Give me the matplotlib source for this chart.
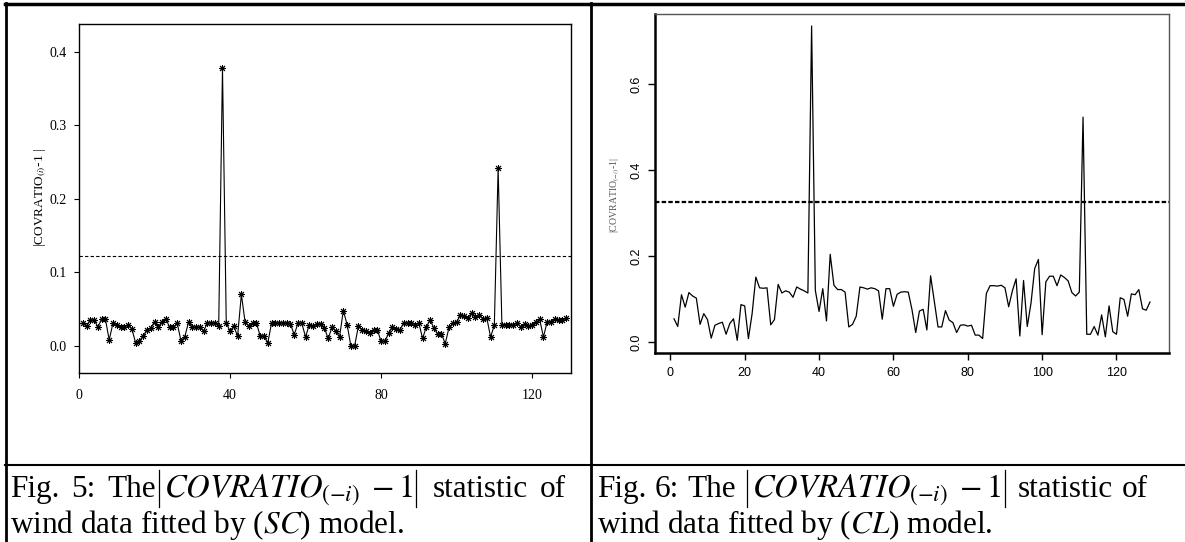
import numpy as np
import matplotlib
matplotlib.use("Agg")
import matplotlib.pyplot as plt
from matplotlib.lines import Line2D
from matplotlib.ticker import FormatStrFormatter

# |COVRATIO - 1| for the SC model (Fig. 5), obs 1..129
sc_vals = [0.031, 0.027, 0.035, 0.035, 0.026, 0.036, 0.036, 0.008, 0.031, 0.029,
           0.025, 0.026, 0.029, 0.023, 0.004, 0.007, 0.013, 0.022, 0.024, 0.033,
           0.026, 0.033, 0.037, 0.025, 0.025, 0.031, 0.007, 0.012, 0.032, 0.025,
           0.026, 0.025, 0.020, 0.031, 0.031, 0.031, 0.027, 0.378, 0.031, 0.020,
           0.027, 0.013, 0.070, 0.032, 0.027, 0.031, 0.031, 0.013, 0.013, 0.004,
           0.031, 0.031, 0.031, 0.031, 0.031, 0.030, 0.015, 0.031, 0.031, 0.012,
           0.029, 0.027, 0.030, 0.030, 0.024, 0.010, 0.025, 0.020, 0.012, 0.048,
           0.029, 0.000, 0.000, 0.027, 0.022, 0.020, 0.018, 0.022, 0.022, 0.006,
           0.006, 0.017, 0.025, 0.023, 0.022, 0.031, 0.031, 0.031, 0.029, 0.031,
           0.010, 0.026, 0.035, 0.024, 0.016, 0.016, 0.003, 0.025, 0.031, 0.032,
           0.042, 0.040, 0.038, 0.045, 0.039, 0.042, 0.037, 0.038, 0.012, 0.028,
           0.242, 0.029, 0.029, 0.029, 0.029, 0.031, 0.026, 0.030, 0.027, 0.029,
           0.032, 0.036, 0.012, 0.033, 0.032, 0.037, 0.035, 0.035, 0.038]
sc_cut = 0.1224

# |COVRATIO - 1| for the CL model (Fig. 6), obs 1..129
cl_vals = [0.054, 0.036, 0.110, 0.081, 0.115, 0.107, 0.102, 0.041, 0.066, 0.052,
           0.009, 0.039, 0.043, 0.046, 0.018, 0.043, 0.054, 0.004, 0.087, 0.084,
           0.008, 0.066, 0.151, 0.126, 0.125, 0.126, 0.040, 0.052, 0.134, 0.114,
           0.119, 0.116, 0.104, 0.128, 0.123, 0.119, 0.114, 0.735, 0.120, 0.071,
           0.124, 0.049, 0.204, 0.132, 0.122, 0.122, 0.116, 0.035, 0.041, 0.060,
           0.128, 0.126, 0.123, 0.126, 0.124, 0.119, 0.053, 0.124, 0.124, 0.083,
           0.111, 0.116, 0.117, 0.116, 0.075, 0.022, 0.072, 0.076, 0.028, 0.154,
           0.094, 0.035, 0.035, 0.073, 0.051, 0.045, 0.022, 0.039, 0.040, 0.037,
           0.039, 0.016, 0.016, 0.008, 0.113, 0.131, 0.131, 0.130, 0.132, 0.126,
           0.082, 0.119, 0.147, 0.014, 0.143, 0.036, 0.090, 0.171, 0.192, 0.017,
           0.140, 0.153, 0.153, 0.131, 0.156, 0.150, 0.142, 0.115, 0.107, 0.116,
           0.523, 0.018, 0.018, 0.036, 0.016, 0.063, 0.012, 0.084, 0.024, 0.018,
           0.103, 0.099, 0.060, 0.112, 0.110, 0.122, 0.077, 0.074, 0.093]
cl_cut = 0.325

plt.rcParams['mathtext.fontset'] = 'stix'
serif = 'Liberation Serif'
sans = 'Liberation Sans'

W, H = 1185, 542
fig = plt.figure(figsize=(W / 100, H / 100), dpi=100)


def box(l, t, r, b):
    return [l / W, 1 - b / H, (r - l) / W, (b - t) / H]


def seg(xs, ys, lw=2.0):
    # xs, ys in pixels from the top-left corner
    fig.add_artist(Line2D([x / W for x in xs], [1 - y / H for y in ys],
                          transform=fig.transFigure, color='black', lw=lw))


# table frame
seg([5, W], [4, 4], lw=2.5)
seg([6, 6], [3, H])
seg([591, 591], [3, H])
seg([5, W], [465, 465], lw=1.5)

# ---- Fig. 5 (SC) ----
ax1 = fig.add_axes(box(79, 24, 571, 373))
x1 = np.arange(1, len(sc_vals) + 1)
ax1.plot(x1, sc_vals, color='black', lw=0.8, marker=(8, 2, 0), ms=5, mew=0.7)
ax1.axhline(sc_cut, color='black', lw=0.8, ls=(0, (3, 2)))
ax1.set_xlim(0, 130.3)
ax1.set_ylim(-0.037, 0.438)
ax1.set_xticks([0, 40, 80, 120])
ax1.set_yticks([0.0, 0.1, 0.2, 0.3, 0.4])
ax1.yaxis.set_major_formatter(FormatStrFormatter('%.1f'))
ax1.tick_params(axis='x', length=3.6, width=0.8, pad=8, labelsize=10)
ax1.tick_params(axis='y', length=3.6, width=0.8, pad=5, labelsize=10)
for lab in ax1.get_xticklabels() + ax1.get_yticklabels():
    lab.set_fontfamily(serif)
for s in ax1.spines.values():
    s.set_linewidth(1.0)
fig.text(40 / W, 1 - 198 / H, r"|COVRATIO$_{(i)}$-1 |", rotation=90,
         ha='center', va='center', fontsize=9.5, family=serif)

# ---- Fig. 6 (CL) ----
ax2 = fig.add_axes(box(655, 14, 1169, 353))
x2 = np.arange(1, len(cl_vals) + 1)
ax2.plot(x2, cl_vals, color='black', lw=0.9)
ax2.axhline(cl_cut, color='black', lw=1.6, ls=(0, (2, 1)))
ax2.set_xlim(-4.12, 134.12)
ax2.set_ylim(-0.0256, 0.763)
ax2.set_xticks(np.arange(0, 121, 20))
ax2.set_yticks([0.0, 0.2, 0.4, 0.6])
ax2.yaxis.set_major_formatter(FormatStrFormatter('%.1f'))
ax2.tick_params(axis='x', length=5, width=1.0, pad=5, labelsize=9)
ax2.tick_params(axis='y', length=5, width=1.0, pad=4, labelsize=9)
for lab in ax2.get_xticklabels():
    lab.set_fontfamily(sans)
for lab in ax2.get_yticklabels():
    lab.set_fontfamily(sans)
    lab.set_rotation(90)
    lab.set_va('center')
ax2.spines['left'].set_linewidth(1.8)
ax2.spines['bottom'].set_linewidth(1.8)
ax2.spines['top'].set_linewidth(1.0)
ax2.spines['right'].set_linewidth(1.0)
ax2.spines['top'].set_color('#555555')
ax2.spines['right'].set_color('#555555')
fig.text(615 / W, 1 - 195 / H, r"|COVRATIO$_{(-i)}$-1|", rotation=90,
         ha='center', va='center', fontsize=7, family=serif, color='#555555')

# ---- captions (first line justified like the Word table cell) ----
cap_size = 22.5
eq_size = 23.5
renderer = fig.canvas.get_renderer()


def text_width(s, size):
    t = fig.text(0, 0, s, fontsize=size, family=serif)
    w = t.get_window_extent(renderer).width
    t.remove()
    return w


space_w = text_width("a a", cap_size) - text_width("aa", cap_size)


def caption_line(x0, x_end, base, items):
    # items: words, ' ' = stretchable space, '|' = tall bar, '$..$' = equation
    sizes = [eq_size if it.startswith('$') else cap_size for it in items]
    widths = []
    for it, sz in zip(items, sizes):
        if it == ' ':
            widths.append(space_w)
        elif it == '|':
            widths.append(8)
        else:
            widths.append(text_width(it, sz))
    n_sp = items.count(' ')
    extra = 0
    if x_end is not None and n_sp:
        extra = max(0, (x_end - x0 - sum(widths)) / n_sp)
    x = x0
    for it, w, sz in zip(items, widths, sizes):
        if it == ' ':
            x += w + extra
        elif it == '|':
            seg([x + 3, x + 3], [base - 27, base + 10], lw=0.9)
            x += w
        else:
            fig.text(x / W, 1 - base / H, it, ha='left', va='baseline',
                     fontsize=sz, family=serif)
            x += w


stat = r"$COVRATIO_{(-i)}\;-1$"
caption_line(10, 566, 497, ["Fig.", ' ', "5:", ' ', "The", '|', stat, '|', ' ',
                            "statistic", ' ', "of"])
caption_line(10, None, 533, [r"wind data fitted by ($SC$) model."])
caption_line(597, 1148, 497, ["Fig.", ' ', "6:", ' ', "The", ' ', '|', stat, '|', ' ',
                              "statistic", ' ', "of"])
caption_line(597, None, 533, [r"wind data fitted by ($CL$) model."])

fig.savefig("out.png", dpi=100)
